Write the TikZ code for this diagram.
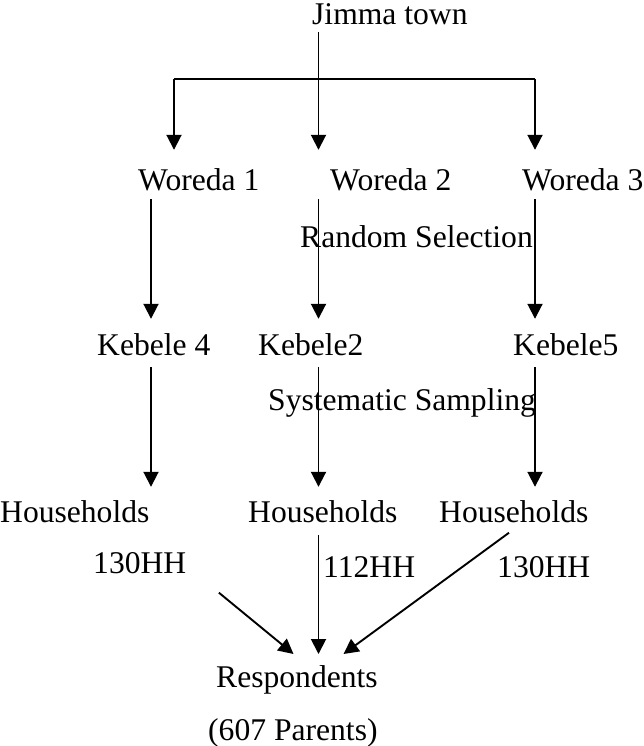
\documentclass[tikz,border=0pt]{standalone}
\usepackage{fontspec}
\setmainfont{Liberation Serif}
\usepackage{tikz}
\usetikzlibrary{arrows.meta}

\begin{document}
\begin{tikzpicture}[
  x=1pt, y=1pt,
  font=\fontsize{31.6}{38}\selectfont,
  lbl/.style={inner sep=0pt, anchor=base west, text height=21pt, text depth=7pt},
  link/.style={line width=1.9pt},
  arr/.style={link, -{Triangle[length=15pt, width=15pt]}}
]
\useasboundingbox (0,0) rectangle (644,-746);
% columns and bar
\coordinate (colA) at (151,0);
\coordinate (colB) at (318.5,0);
\coordinate (colC) at (535,0);
\coordinate (barL) at (174,-79);
\coordinate (barR) at (535,-79);
\coordinate (tipL) at (293.5,-654);
\coordinate (tip) at (318.5,-654);
\coordinate (tipR) at (343.5,-654);
% levels
\node[lbl] (town) at (312,-25) {Jimma town};
\node[lbl] (w1) at (138,-190) {Woreda 1};
\node[lbl] (w2) at (330,-190) {Woreda 2};
\node[lbl] (w3) at (522,-190) {Woreda 3};
\node[lbl] (rand) at (300,-247) {Random Selection};
\node[lbl] (k4) at (97,-355) {Kebele 4};
\node[lbl] (k2) at (258,-355) {Kebele2};
\node[lbl] (k5) at (513,-355) {Kebele5};
\node[lbl] (syst) at (268,-410) {Systematic Sampling};
\node[lbl] (h1) at (0,-522) {Households};
\node[lbl] (h2) at (248,-522) {Households};
\node[lbl] (h3) at (439,-522) {Households};
\node[lbl] (n1) at (93,-573) {130HH};
\node[lbl] (n2) at (323,-577) {112HH};
\node[lbl] (n3) at (497,-577) {130HH};
\node[lbl] (resp) at (216,-687) {Respondents};
\node[lbl] (par) at (208,-740) {(607 Parents)};
% town to woredas
\draw[arr, shorten >=19pt] (town.south -| colB) -- (w2.north -| colB);
\draw[link] (barL) -- (barR);
\draw[arr, shorten >=19pt] (barL) -- (barL |- w1.north);
\draw[arr, shorten >=19pt] (barR) -- (barR |- w3.north);
% woredas to kebeles
\draw[arr, shorten <=2pt, shorten >=15pt] (w1.south -| colA) -- (k4.north -| colA);
\draw[arr, shorten <=2pt, shorten >=15pt] (w2.south -| colB) -- (k2.north -| colB);
\draw[arr, shorten <=2pt, shorten >=15pt] (w3.south -| colC) -- (k5.north -| colC);
% kebeles to households
\draw[arr, shorten <=5pt, shorten >=14pt] (k4.south -| colA) -- (h1.north -| colA);
\draw[arr, shorten <=5pt, shorten >=14pt] (k2.south -| colB) -- (h2.north -| colB);
\draw[arr, shorten <=5pt, shorten >=14pt] (k5.south -| colC) -- (h3.north -| colC);
% households to respondents
\draw[arr, shorten <=42pt] (n1.east) -- (tipL);
\draw[arr, shorten <=6pt] (h2.south -| colB) -- (tip);
\draw[arr, shorten <=6pt] (h3.south) -- (tipR);
\end{tikzpicture}
\end{document}
